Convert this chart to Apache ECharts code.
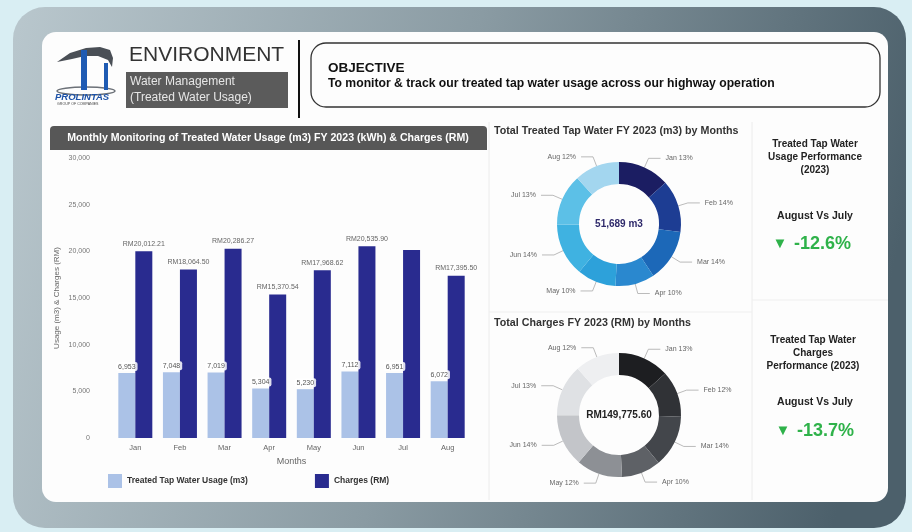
<!DOCTYPE html>
<html><head><meta charset="utf-8">
<script src="https://cdn.jsdelivr.net/npm/echarts@6/dist/echarts.min.js"></script>
<style>html,body{margin:0;padding:0;background:#d9eef3}#c{width:912px;height:532px}</style>
</head><body><div id="c"></div>
<script>
const months = ['Jan','Feb','Mar','Apr','May','Jun','Jul','Aug'];
const usage = [6953, 7048, 7019, 5304, 5230, 7112, 6951, 6072];
const charges = [20012.21, 18064.50, 20286.27, 15370.54, 17968.62, 20535.90, 20142.06, 17395.50];
const hiddenChargeLabels = ['Jul'];
const usageColors = ['#1b1d62','#1d3d93','#1c68b8','#2a88cf','#2da1da','#3fb2e1','#5cc0e7','#a3d6ef'];
const chargeColors = ['#1d1e21','#303236','#43464b','#5e6166','#8d9095','#c3c5c9','#dfe1e4','#eeeff1'];
const usageTotalText = '51,689 m3';
const chargeTotalText = 'RM149,775.60';
const perfUsage = '-12.6%';
const perfCharges = '-13.7%';

const FONT = '"Liberation Sans", Arial, sans-serif';
const fmt = (v, d) => v.toLocaleString('en-US', {minimumFractionDigits: d, maximumFractionDigits: d});

const chart = echarts.init(document.getElementById('c'), null, {renderer: 'canvas'});

function txt(x, y, text, size, opts) {
  return Object.assign({type: 'text', x: x, y: y, z: 20,
    style: Object.assign({text: text, font: (opts && opts.weight ? opts.weight + ' ' : '') + size + 'px ' + FONT,
      fill: '#333', textAlign: 'left', textVerticalAlign: 'middle'}, (opts && opts.style) || {})});
}

const graphics = [
  {type: 'rect', shape: {x: 0, y: 0, width: 912, height: 532}, style: {fill: '#d9eef3'}, z: 0},
  {type: 'rect', shape: {x: 13, y: 7, width: 893, height: 521, r: 32}, z: 1,
    style: {fill: new echarts.graphic.LinearGradient(0, 0, 1, 0.4, [
      {offset: 0, color: '#b9c7cd'}, {offset: 0.5, color: '#8a9ba3'}, {offset: 1, color: '#4c606b'}])}},
  {type: 'rect', shape: {x: 42, y: 32, width: 846, height: 470, r: 14}, style: {fill: '#fdfdfd'}, z: 2},
  // faint dividers
  {type: 'line', shape: {x1: 489, y1: 122, x2: 489, y2: 500}, style: {stroke: '#ececec', lineWidth: 1}, z: 3},
  {type: 'line', shape: {x1: 752, y1: 122, x2: 752, y2: 500}, style: {stroke: '#ececec', lineWidth: 1}, z: 3},
  {type: 'line', shape: {x1: 489, y1: 312, x2: 752, y2: 312}, style: {stroke: '#efefef', lineWidth: 1}, z: 3},
  {type: 'line', shape: {x1: 752, y1: 300, x2: 888, y2: 300}, style: {stroke: '#efefef', lineWidth: 1}, z: 3},
  // logo
  {type: 'polygon', z: 10, shape: {points: [[57,62],[70,53],[86,48],[100,47],[110,50],[113,58],[112,67],[108,60],[98,56],[85,56],[72,59]]}, style: {fill: '#4a4f56'}},
  {type: 'rect', z: 11, shape: {x: 81, y: 50, width: 6, height: 40}, style: {fill: '#1f5bb3'}},
  {type: 'rect', z: 11, shape: {x: 104, y: 63, width: 4, height: 27}, style: {fill: '#1f5bb3'}},
  {type: 'ellipse', z: 10, shape: {cx: 86, cy: 91, rx: 29, ry: 4}, style: {fill: 'none', stroke: '#6c7178', lineWidth: 1.5}},
  txt(55, 97, 'PROLINTAS', 9.5, {weight: 'italic bold', style: {fill: '#1d52a8'}}),
  txt(57, 103.5, 'GROUP OF COMPANIES', 3.6, {style: {fill: '#444'}}),
  txt(129, 55, 'ENVIRONMENT', 21, {style: {fill: '#333'}}),
  {type: 'rect', z: 10, shape: {x: 126, y: 72, width: 162, height: 36}, style: {fill: '#5b5b5b'}},
  txt(130, 82, 'Water Management', 12, {style: {fill: '#e6e6e6'}}),
  txt(130, 98, '(Treated Water Usage)', 12, {style: {fill: '#e6e6e6'}}),
  {type: 'line', z: 10, shape: {x1: 299, y1: 40, x2: 299, y2: 118}, style: {stroke: '#111', lineWidth: 2}},
  {type: 'rect', z: 10, shape: {x: 311, y: 43, width: 569, height: 64, r: 15}, style: {fill: 'none', stroke: '#333', lineWidth: 1.3}},
  txt(328, 68, 'OBJECTIVE', 13.5, {weight: 'bold', style: {fill: '#111'}}),
  txt(328, 84, 'To monitor & track our treated tap water usage across our highway operation', 12.2, {weight: 'bold', style: {fill: '#111'}}),
  // bar chart header
  {type: 'rect', z: 10, shape: {x: 50, y: 126, width: 437, height: 24, r: [4,4,0,0]}, style: {fill: '#575757'}},
  txt(268, 138, 'Monthly Monitoring of Treated Water Usage (m3) FY 2023 (kWh) & Charges (RM)', 10.6, {weight: 'bold', style: {fill: '#fff', textAlign: 'center'}}),
  // donut titles
  txt(494, 131, 'Total Treated Tap Water FY 2023 (m3) by Months', 10.7, {weight: 'bold', style: {fill: '#333'}}),
  txt(494, 323, 'Total Charges FY 2023 (RM) by Months', 10.7, {weight: 'bold', style: {fill: '#333'}}),
  txt(619, 224, usageTotalText, 10, {weight: 'bold', style: {fill: '#2f2a6b', textAlign: 'center'}}),
  txt(619, 415, chargeTotalText, 10, {weight: 'bold', style: {fill: '#222', textAlign: 'center'}}),
  // right KPIs
  txt(815, 144, 'Treated Tap Water', 10, {weight: 'bold', style: {fill: '#222', textAlign: 'center'}}),
  txt(815, 157, 'Usage Performance', 10, {weight: 'bold', style: {fill: '#222', textAlign: 'center'}}),
  txt(815, 170, '(2023)', 10, {weight: 'bold', style: {fill: '#222', textAlign: 'center'}}),
  txt(815, 216, 'August Vs July', 10.5, {weight: 'bold', style: {fill: '#222', textAlign: 'center'}}),
  txt(780, 244, '\u25BC', 15, {style: {fill: '#2fb24a', textAlign: 'center'}}),
  txt(794, 244, perfUsage, 18, {weight: 'bold', style: {fill: '#2fb24a'}}),
  txt(813, 340, 'Treated Tap Water', 10, {weight: 'bold', style: {fill: '#222', textAlign: 'center'}}),
  txt(813, 353, 'Charges', 10, {weight: 'bold', style: {fill: '#222', textAlign: 'center'}}),
  txt(813, 366, 'Performance (2023)', 10, {weight: 'bold', style: {fill: '#222', textAlign: 'center'}}),
  txt(815, 402, 'August Vs July', 10.5, {weight: 'bold', style: {fill: '#222', textAlign: 'center'}}),
  txt(783, 431, '\u25BC', 15, {style: {fill: '#2fb24a', textAlign: 'center'}}),
  txt(797, 431, perfCharges, 18, {weight: 'bold', style: {fill: '#2fb24a'}})
];

const pieLabel = {fontSize: 7, color: '#666', fontFamily: FONT, formatter: '{b} {d}%'};

chart.setOption({
  animation: false,
  textStyle: {fontFamily: FONT},
  graphic: {elements: graphics},
  legend: {
    left: 103, top: 469, itemWidth: 14, itemHeight: 14, itemGap: 67, z: 30,
    icon: 'rect',
    textStyle: {fontSize: 8.5, fontWeight: 'bold', color: '#333', fontFamily: FONT},
    data: ['Treated Tap Water Usage (m3)', 'Charges (RM)']
  },
  grid: {left: 113, right: 442, top: 158, bottom: 94, containLabel: false, z: 30},
  xAxis: {
    type: 'category', data: months, z: 30,
    axisLine: {show: false}, axisTick: {show: false},
    axisLabel: {fontSize: 7.5, color: '#666', margin: 6},
    name: 'Months', nameLocation: 'middle', nameGap: 14,
    nameTextStyle: {fontSize: 9, color: '#666'}
  },
  yAxis: {
    type: 'value', min: 0, max: 30000, interval: 5000, z: 30,
    axisLabel: {fontSize: 7, color: '#777', margin: 23, formatter: v => fmt(v, 0)},
    splitLine: {show: false},
    name: 'Usage (m3) & Charges (RM)', nameLocation: 'middle', nameGap: 52,
    nameTextStyle: {fontSize: 8, color: '#666'}
  },
  series: [
    {
      name: 'Treated Tap Water Usage (m3)', type: 'bar', z: 30,
      data: usage, barWidth: 17, barGap: '0%',
      itemStyle: {color: '#abc2e7'},
      label: {show: true, position: 'top', distance: 2, fontSize: 7, color: '#555',
        backgroundColor: 'rgba(255,255,255,0.85)', padding: [1, 2], borderRadius: 2,
        formatter: p => fmt(p.value, 0)}
    },
    {
      name: 'Charges (RM)', type: 'bar', z: 30,
      data: charges.map((v, i) => hiddenChargeLabels.includes(months[i]) ? {value: v, label: {show: false}} : v),
      barWidth: 17,
      itemStyle: {color: '#292b8f'},
      label: {show: true, position: 'top', distance: 4, fontSize: 7, color: '#666',
        formatter: p => 'RM' + fmt(p.value, 2)}
    },
    {
      type: 'pie', z: 30, center: [619, 224], radius: [40, 62], startAngle: 90, percentPrecision: 0,
      itemStyle: {borderWidth: 0},
      data: months.map((m, i) => ({name: m, value: usage[i], itemStyle: {color: usageColors[i]}})),
      label: pieLabel, labelLine: {length: 10, length2: 12, lineStyle: {color: '#aaa', width: 0.8}},
      emphasis: {disabled: true}
    },
    {
      type: 'pie', z: 30, center: [619, 415], radius: [40, 62], startAngle: 90, percentPrecision: 0,
      itemStyle: {borderWidth: 0},
      data: months.map((m, i) => ({name: m, value: charges[i], itemStyle: {color: chargeColors[i]}})),
      label: pieLabel, labelLine: {length: 10, length2: 12, lineStyle: {color: '#aaa', width: 0.8}},
      emphasis: {disabled: true}
    }
  ]
});
</script>
</body></html>
